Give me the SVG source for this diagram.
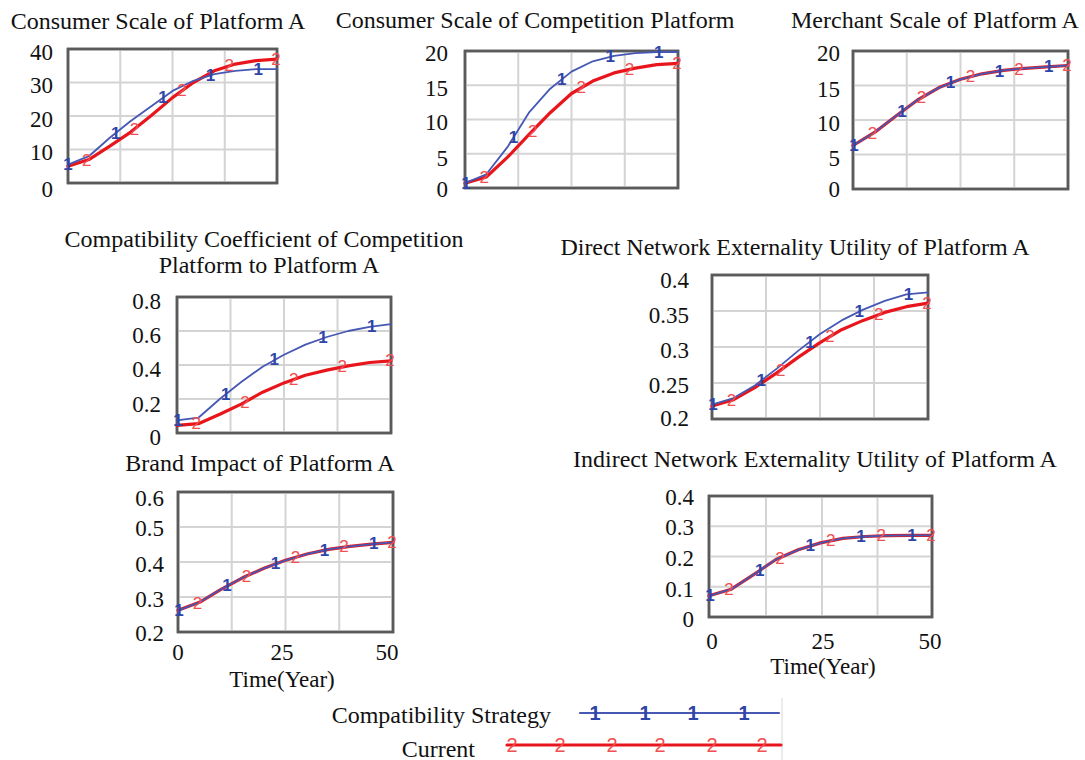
<svg xmlns="http://www.w3.org/2000/svg" width="1085" height="760" viewBox="0 0 1085 760">
  <style>
    text { font-family: "Liberation Serif", "Times New Roman", serif; fill: #111; }
    .title { font-size: 24px; text-anchor: middle; }
    .tick { font-size: 23px; text-anchor: end; }
    .xtick { font-size: 23px; text-anchor: middle; }
    .box { fill: #fff; stroke: #5a5a5a; stroke-width: 2.5; }
    .frame { fill: none; stroke: #5a5a5a; stroke-width: 2.5; }
    .grid { stroke: #d4d4d4; stroke-width: 2; fill: none; }
    .red { fill: none; stroke: #e8161c; stroke-width: 3.2; stroke-linejoin: round; stroke-linecap: round; }
    .blue { fill: none; stroke: #4658b4; stroke-width: 1.8; stroke-linejoin: round; stroke-linecap: round; }
    .m1 { font-family: "Liberation Sans", Arial, sans-serif; font-size: 17px; font-weight: bold; fill: #2f45a8; text-anchor: middle; dominant-baseline: central; }
    .m2 { font-family: "Liberation Sans", Arial, sans-serif; font-size: 17px; fill: #f05050; text-anchor: middle; dominant-baseline: central; }
    .lm { font-size: 20px; }
    .legend { font-size: 24px; text-anchor: end; }
  </style>

  <!-- Consumer Scale of Platform A -->
  <g id="chart-consumer-a">
    <text class="title" x="158" y="29">Consumer Scale of Platform A</text>
    <rect class="box" x="68" y="49" width="209" height="134"/>
    <path class="grid" d="M120.25 50V182M172.5 50V182M224.75 50V182M69 82.5H276M69 116H276M69 149.5H276"/>
    <rect class="frame" x="68" y="49" width="209" height="134"/>
    <text class="tick" x="53" y="60">40</text>
    <text class="tick" x="53" y="93">30</text>
    <text class="tick" x="53" y="127">20</text>
    <text class="tick" x="53" y="160">10</text>
    <text class="tick" x="53" y="197">0</text>
    <polyline class="red" points="68,166.3 88.9,159.6 109.8,146.2 130.7,132.1 151.6,115.3 172.5,97.6 193.4,82.5 214.3,70.8 235.2,64.1 256.1,60.7 277,59.1"/>
    <polyline class="blue" points="68,164.6 88.9,156.2 109.8,137.8 130.7,121 151.6,105.9 172.5,90.9 193.4,80.8 214.3,74.1 235.2,70.8 256.1,69.1 277,69.1"/>
    <text class="m2" x="86.8" y="160.2">2</text>
    <text class="m2" x="134.5" y="129.1">2</text>
    <text class="m2" x="182.1" y="90.5">2</text>
    <text class="m2" x="229.3" y="65.8">2</text>
    <text class="m2" x="276" y="59.1">2</text>
    <text class="m1" x="68" y="164.6">1</text>
    <text class="m1" x="115.7" y="133.1">1</text>
    <text class="m1" x="162.9" y="97.9">1</text>
    <text class="m1" x="210.5" y="75.1">1</text>
    <text class="m1" x="258.2" y="69.1">1</text>
  </g>

  <!-- Consumer Scale of Competition Platform -->
  <g id="chart-consumer-competition">
    <text class="title" x="535" y="28">Consumer Scale of Competition Platform</text>
    <rect class="box" x="465" y="51" width="213" height="137"/>
    <path class="grid" d="M518.25 52V187M571.5 52V187M624.75 52V187M466 85.25H677M466 119.5H677M466 153.75H677"/>
    <rect class="frame" x="465" y="51" width="213" height="137"/>
    <text class="tick" x="448" y="61">20</text>
    <text class="tick" x="448" y="96">15</text>
    <text class="tick" x="448" y="130">10</text>
    <text class="tick" x="448" y="166">5</text>
    <text class="tick" x="448" y="197">0</text>
    <polyline class="red" points="465,183.2 486.3,177 507.6,157.2 528.9,134.6 550.2,112.7 571.5,93.5 592.8,81.1 614.1,72.9 635.4,68.1 656.7,64.7 678,63.3"/>
    <polyline class="blue" points="465,183.2 486.3,174.3 507.6,146.9 528.9,112.7 550.2,88.7 571.5,71.6 592.8,61.3 614.1,55.8 635.4,53.1 656.7,52 678,52"/>
    <text class="m2" x="484.2" y="177.7">2</text>
    <text class="m2" x="532.7" y="131.8">2</text>
    <text class="m2" x="581.3" y="87.3">2</text>
    <text class="m2" x="629.4" y="69.5">2</text>
    <text class="m2" x="677" y="63.3">2</text>
    <text class="m1" x="466" y="183">1</text>
    <text class="m1" x="513.6" y="137.3">1</text>
    <text class="m1" x="561.7" y="79.1">1</text>
    <text class="m1" x="610.3" y="56.5">1</text>
    <text class="m1" x="658.8" y="52">1</text>
  </g>

  <!-- Merchant Scale of Platform A -->
  <g id="chart-merchant-a">
    <text class="title" x="935" y="28">Merchant Scale of Platform A</text>
    <rect class="box" x="853" y="51" width="215" height="138"/>
    <path class="grid" d="M906.75 52V188M960.5 52V188M1014.25 52V188M854 85.5H1067M854 120H1067M854 154.5H1067"/>
    <rect class="frame" x="853" y="51" width="215" height="138"/>
    <text class="tick" x="840" y="61">20</text>
    <text class="tick" x="840" y="97">15</text>
    <text class="tick" x="840" y="131">10</text>
    <text class="tick" x="840" y="166">5</text>
    <text class="tick" x="840" y="197">0</text>
    <polyline class="red" points="853,145.5 874.5,132.4 896,115.9 917.5,100 939,87.6 960.5,79.3 982,73.8 1003.5,70.3 1025,68.3 1046.5,66.9 1068,65.5"/>
    <polyline class="blue" points="853,145.5 874.5,132.4 896,115.9 917.5,100 939,87.6 960.5,79.3 982,73.8 1003.5,70.3 1025,68.3 1046.5,66.9 1068,65.5"/>
    <text class="m2" x="872.4" y="133.8">2</text>
    <text class="m2" x="921.4" y="97.9">2</text>
    <text class="m2" x="970.4" y="76.5">2</text>
    <text class="m2" x="1019" y="69">2</text>
    <text class="m2" x="1067" y="65.5">2</text>
    <text class="m1" x="854" y="145.5">1</text>
    <text class="m1" x="902" y="111.7">1</text>
    <text class="m1" x="950.6" y="82.7">1</text>
    <text class="m1" x="999.6" y="71">1</text>
    <text class="m1" x="1048.7" y="66.9">1</text>
  </g>

  <!-- Compatibility Coefficient of Competition Platform to Platform A -->
  <g id="chart-compatibility">
    <text class="title" x="264" y="247">Compatibility Coefficient of Competition</text>
    <text class="title" x="269" y="273">Platform to Platform A</text>
    <rect class="box" x="177" y="297" width="214" height="136"/>
    <path class="grid" d="M230.5 298V432M284 298V432M337.5 298V432M178 331H390M178 365H390M178 399H390"/>
    <rect class="frame" x="177" y="297" width="214" height="136"/>
    <text class="tick" x="161" y="309">0.8</text>
    <text class="tick" x="161" y="343">0.6</text>
    <text class="tick" x="161" y="377">0.4</text>
    <text class="tick" x="161" y="412">0.2</text>
    <text class="tick" x="161" y="445">0</text>
    <polyline class="red" points="177,425.4 198.4,423.7 219.8,414.3 241.2,404.1 262.6,392.2 284,382.9 305.4,375.2 326.8,370.1 348.2,365.9 369.6,362.5 391,360.8"/>
    <polyline class="blue" points="177,420.3 198.4,417.7 219.8,399 241.2,382 262.6,366.7 284,354.8 305.4,344.6 326.8,337 348.2,331 369.6,326.8 391,324.2"/>
    <text class="m2" x="196.3" y="423.8">2</text>
    <text class="m2" x="245" y="402.4">2</text>
    <text class="m2" x="293.8" y="379.3">2</text>
    <text class="m2" x="342.2" y="366.7">2</text>
    <text class="m2" x="390" y="360.8">2</text>
    <text class="m1" x="178" y="420.3">1</text>
    <text class="m1" x="225.8" y="394.2">1</text>
    <text class="m1" x="274.2" y="359.9">1</text>
    <text class="m1" x="323" y="337.8">1</text>
    <text class="m1" x="371.7" y="326.4">1</text>
  </g>

  <!-- Direct Network Externality Utility of Platform A -->
  <g id="chart-direct-utility">
    <text class="title" x="795" y="255">Direct Network Externality Utility of Platform A</text>
    <rect class="box" x="712" y="275" width="216" height="144"/>
    <path class="grid" d="M766 276V418M820 276V418M874 276V418M713 311H927M713 347H927M713 383H927"/>
    <rect class="frame" x="712" y="275" width="216" height="144"/>
    <text class="tick" x="689" y="288">0.4</text>
    <text class="tick" x="689" y="323">0.35</text>
    <text class="tick" x="689" y="358">0.3</text>
    <text class="tick" x="689" y="393">0.25</text>
    <text class="tick" x="689" y="426">0.2</text>
    <polyline class="red" points="712,406 733.6,399.6 755.2,387.3 776.8,372.9 798.4,357.1 820,342.7 841.6,329.7 863.2,320.4 884.8,312.4 906.4,306.7 928,303.1"/>
    <polyline class="blue" points="712,404.6 733.6,398.1 755.2,385.2 776.8,368.6 798.4,350.6 820,334 841.6,320.4 863.2,309.6 884.8,300.9 906.4,294.4 928,292.3"/>
    <text class="m2" x="731.4" y="400.3">2</text>
    <text class="m2" x="780.7" y="370">2</text>
    <text class="m2" x="829.9" y="336.9">2</text>
    <text class="m2" x="878.8" y="314.6">2</text>
    <text class="m2" x="927" y="303.1">2</text>
    <text class="m1" x="713" y="404.6">1</text>
    <text class="m1" x="761.2" y="380.8">1</text>
    <text class="m1" x="810.1" y="342">1</text>
    <text class="m1" x="859.3" y="311.7">1</text>
    <text class="m1" x="908.6" y="294.4">1</text>
  </g>

  <!-- Brand Impact of Platform A -->
  <g id="chart-brand-impact">
    <text class="title" x="260" y="471">Brand Impact of Platform A</text>
    <rect class="box" x="178" y="492" width="215" height="140"/>
    <path class="grid" d="M231.75 493V631M285.5 493V631M339.25 493V631M179 527H392M179 562H392M179 597H392"/>
    <rect class="frame" x="178" y="492" width="215" height="140"/>
    <text class="tick" x="164" y="506">0.6</text>
    <text class="tick" x="164" y="536">0.5</text>
    <text class="tick" x="164" y="572">0.4</text>
    <text class="tick" x="164" y="607">0.3</text>
    <text class="tick" x="164" y="641">0.2</text>
    <text class="xtick" x="178" y="660">0</text>
    <text class="xtick" x="282" y="660">25</text>
    <text class="xtick" x="387" y="660">50</text>
    <text class="xtick" x="282" y="687">Time(Year)</text>
    <polyline class="red" points="178,610.3 199.5,602.3 221,589.3 242.5,577.8 264,568.3 285.5,560.3 307,554 328.5,549.4 350,546.3 371.5,544.2 393,542.4"/>
    <polyline class="blue" points="178,610.3 199.5,602.3 221,589.3 242.5,577.8 264,568.3 285.5,560.3 307,554 328.5,549.4 350,546.3 371.5,544.2 393,542.4"/>
    <text class="m2" x="197.4" y="603">2</text>
    <text class="m2" x="246.4" y="576">2</text>
    <text class="m2" x="295.4" y="557.1">2</text>
    <text class="m2" x="344" y="546.9">2</text>
    <text class="m2" x="392" y="542.4">2</text>
    <text class="m1" x="179" y="610.3">1</text>
    <text class="m1" x="227" y="585.8">1</text>
    <text class="m1" x="275.6" y="563.8">1</text>
    <text class="m1" x="324.6" y="550.1">1</text>
    <text class="m1" x="373.7" y="543.8">1</text>
  </g>

  <!-- Indirect Network Externality Utility of Platform A -->
  <g id="chart-indirect-utility">
    <text class="title" x="815" y="467">Indirect Network Externality Utility of Platform A</text>
    <rect class="box" x="709" y="496" width="223" height="121"/>
    <path class="grid" d="M766 497V616M822 497V616M877.5 497V616M710 526.25H931M710 556.5H931M710 586.75H931"/>
    <rect class="frame" x="709" y="496" width="223" height="121"/>
    <text class="tick" x="694" y="505">0.4</text>
    <text class="tick" x="694" y="535">0.3</text>
    <text class="tick" x="694" y="566">0.2</text>
    <text class="tick" x="694" y="597">0.1</text>
    <text class="tick" x="694" y="627">0</text>
    <text class="xtick" x="712" y="649">0</text>
    <text class="xtick" x="823" y="649">25</text>
    <text class="xtick" x="930" y="649">50</text>
    <text class="xtick" x="823" y="674">Time(Year)</text>
    <polyline class="red" points="709,595.8 731.3,589.2 753.6,574.6 775.9,559.5 798.2,549.8 820.5,542.9 842.8,538.4 865.1,536.5 887.4,535.6 909.7,535.3 932,535.3"/>
    <polyline class="blue" points="709,595.8 731.3,589.2 753.6,574.6 775.9,559.5 798.2,549.8 820.5,542.9 842.8,538.4 865.1,536.5 887.4,535.6 909.7,535.3 932,535.3"/>
    <text class="m2" x="729.1" y="589.8">2</text>
    <text class="m2" x="779.9" y="558">2</text>
    <text class="m2" x="830.8" y="540.8">2</text>
    <text class="m2" x="881.2" y="535.9">2</text>
    <text class="m2" x="931" y="535.3">2</text>
    <text class="m1" x="710" y="595.8">1</text>
    <text class="m1" x="759.8" y="570.1">1</text>
    <text class="m1" x="810.2" y="545.9">1</text>
    <text class="m1" x="861.1" y="536.8">1</text>
    <text class="m1" x="911.9" y="535.3">1</text>
  </g>

  <!-- Legend -->
  <g id="legend">
    <line x1="782" y1="698" x2="782" y2="760" stroke="#d8d8d8" stroke-width="1"/>
    <text class="legend" x="551" y="723">Compatibility Strategy</text>
    <line class="blue" x1="580" y1="713" x2="779" y2="713" style="stroke-width:2.2"/>
    <text class="m1 lm" x="595" y="713">1</text>
    <text class="m1 lm" x="645" y="713">1</text>
    <text class="m1 lm" x="693" y="713">1</text>
    <text class="m1 lm" x="744" y="713">1</text>
    <text class="legend" x="475" y="757">Current</text>
    <line class="red" x1="507" y1="745" x2="781" y2="745"/>
    <text class="m2 lm" x="512" y="745">2</text>
    <text class="m2 lm" x="560" y="745">2</text>
    <text class="m2 lm" x="612" y="745">2</text>
    <text class="m2 lm" x="660" y="745">2</text>
    <text class="m2 lm" x="712" y="745">2</text>
    <text class="m2 lm" x="762" y="745">2</text>
  </g>
</svg>
